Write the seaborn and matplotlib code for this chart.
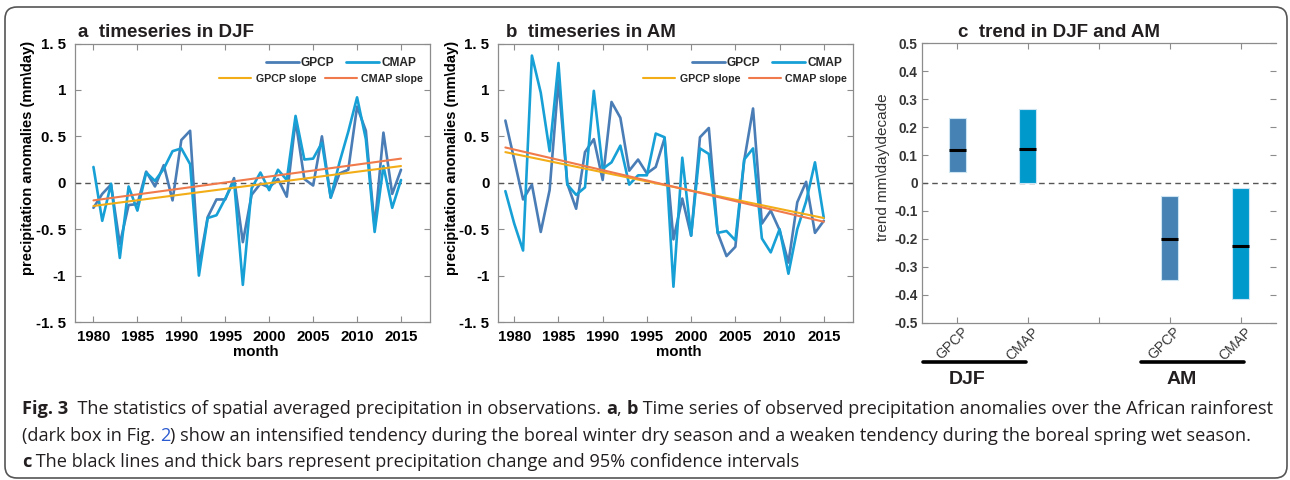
import numpy as np
import pandas as pd
import matplotlib
matplotlib.use("Agg")
import matplotlib.pyplot as plt
import seaborn as sns
from matplotlib import font_manager
from matplotlib.lines import Line2D
from matplotlib.patches import FancyBboxPatch
from matplotlib.transforms import IdentityTransform, ScaledTranslation

# ---------------- data ----------------
years_djf = list(range(1980, 2016))
gpcp_djf = [-0.27, -0.12, -0.02, -0.66, -0.24, -0.23, 0.12, -0.04, 0.19, -0.19,
            0.46, 0.56, -0.90, -0.37, -0.18, -0.18, 0.05, -0.64, -0.13, -0.01,
            -0.05, 0.04, -0.15, 0.67, 0.04, -0.03, 0.50, -0.16, 0.10, 0.14,
            0.82, 0.56, -0.48, 0.54, -0.12, 0.14]
cmap_djf = [0.17, -0.41, -0.01, -0.81, -0.04, -0.30, 0.11, 0.02, 0.15, 0.34,
            0.37, 0.20, -1.00, -0.38, -0.35, -0.17, 0.02, -1.10, -0.06, 0.11,
            -0.08, 0.14, 0.03, 0.72, 0.25, 0.26, 0.43, -0.16, 0.22, 0.55,
            0.92, 0.47, -0.53, 0.18, -0.27, 0.03]

years_am = list(range(1979, 2016))
gpcp_am = [0.67, 0.25, -0.18, -0.02, -0.53, -0.08, 1.10, -0.01, -0.28, 0.33,
           0.47, 0.03, 0.87, 0.70, 0.13, 0.25, 0.10, 0.17, 0.48, -0.61,
           -0.17, -0.57, 0.49, 0.59, -0.54, -0.79, -0.69, 0.24, 0.80, -0.44,
           -0.30, -0.51, -0.86, -0.21, 0.01, -0.54, -0.41]
cmap_am = [-0.09, -0.44, -0.73, 1.37, 0.97, 0.34, 1.29, -0.02, -0.13, -0.05,
           0.99, 0.15, 0.22, 0.40, -0.02, 0.08, 0.08, 0.53, 0.49, -1.12,
           0.27, -0.57, 0.37, 0.31, -0.54, -0.52, -0.62, 0.25, 0.37, -0.60,
           -0.75, -0.50, -0.98, -0.50, -0.20, 0.22, -0.38]

slope_years_djf = [1980, 2015]
gpcp_slope_djf = [-0.25, 0.18]
cmap_slope_djf = [-0.19, 0.26]
slope_years_am = [1979, 2015]
gpcp_slope_am = [0.33, -0.38]
cmap_slope_am = [0.38, -0.42]

trend_datasets = ["GPCP", "CMAP", "GPCP", "CMAP"]
trend_seasons = ["DJF", "DJF", "AM", "AM"]
trend_mid = [0.117, 0.123, -0.200, -0.224]
trend_low = [0.038, 0.000, -0.347, -0.416]
trend_high = [0.232, 0.266, -0.045, -0.019]

year_ticks = [1980, 1985, 1990, 1995, 2000, 2005, 2010, 2015]
anom_ticks = [-1.5, -1.0, -0.5, 0.0, 0.5, 1.0, 1.5]
anom_tick_labels = ["-1. 5", "-1", "-0. 5", "0", "0. 5", "1", "1. 5"]
trend_ticks = [0.5, 0.4, 0.3, 0.2, 0.1, 0.0, -0.1, -0.2, -0.3, -0.4, -0.5]
trend_tick_labels = ["0.5", "0.4", "0.3", "0.2", "0.1", "0", "-0.1", "-0.2", "-0.3", "-0.4", "-0.5"]

# ---------------- style ----------------
W, H = 1290, 480
sns.set_theme(style="ticks")
plt.rcParams['font.family'] = ['Liberation Sans', 'DejaVu Sans']
plt.rcParams['axes.unicode_minus'] = False

C_G = "#4a7db6"      # GPCP line
C_C = "#17a0d6"      # CMAP line
C_GS = "#f2ad17"     # GPCP slope
C_CS = "#f07a4b"     # CMAP slope
C_GB = "#4682b4"     # GPCP bar
C_CB = "#0099cc"     # CMAP bar
SPINE = "#8c8c8c"
TXT = "#231f20"

fig = plt.figure(figsize=(W / 100, H / 100), dpi=100)
fig.patch.set_facecolor("white")


def px_rect(l, t, r, b):
    return [l / W, 1 - b / H, (r - l) / W, (b - t) / H]


axA = fig.add_axes(px_rect(75, 43.5, 430, 322))
axB = fig.add_axes(px_rect(498.3, 43.5, 853, 322))
axC = fig.add_axes(px_rect(921.7, 43.3, 1276, 322.7))


def ts_panel(ax, years, g, c, sy, gs, cs, xlim):
    n = len(years)
    df = pd.DataFrame({"year": years + years, "anom": g + c,
                       "source": ["GPCP"] * n + ["CMAP"] * n})
    sns.lineplot(data=df, x="year", y="anom", hue="source", hue_order=["GPCP", "CMAP"],
                 palette={"GPCP": C_G, "CMAP": C_C}, lw=1.9, legend=False, ax=ax, zorder=3)
    sns.lineplot(x=sy, y=gs, color=C_GS, lw=1.5, ax=ax, zorder=4)
    sns.lineplot(x=sy, y=cs, color=C_CS, lw=1.5, ax=ax, zorder=4)
    ax.axhline(0, color="#555555", lw=1.0, ls=(0, (4, 3)), zorder=1)
    ax.set_xlim(*xlim)
    ax.set_ylim(-1.5, 1.5)
    ax.set_xticks(year_ticks)
    ax.set_xticklabels([str(v) for v in year_ticks])
    ax.set_yticks(anom_ticks)
    ax.set_yticklabels(anom_tick_labels)
    for s in ax.spines.values():
        s.set_visible(True)
        s.set_color(SPINE)
        s.set_linewidth(0.9)
    ax.tick_params(direction="in", length=4, width=0.8, color=SPINE, top=True, right=True,
                   bottom=True, left=True, labelsize=10.8, labelcolor="black")
    ax.tick_params(axis="x", pad=5.5)
    ax.tick_params(axis="y", pad=6.5)
    for lab in ax.get_xticklabels() + ax.get_yticklabels():
        lab.set_fontweight("bold")
    ax.set_xlabel("month", fontsize=10.8, fontweight="bold", color="black", va="center")
    ax.xaxis.set_label_coords(0.509, -0.108)
    ax.set_ylabel("precipitation anomalies (mm\\day)", fontsize=10.6, fontweight="bold",
                  color="black", va="center")
    ax.set_facecolor("white")


ts_panel(axA, years_djf, gpcp_djf, cmap_djf, slope_years_djf, gpcp_slope_djf, cmap_slope_djf,
         (1977.9, 2018.3))
axA.yaxis.set_label_coords((28 - 75) / 355, 0.59)
ts_panel(axB, years_am, gpcp_am, cmap_am, slope_years_am, gpcp_slope_am, cmap_slope_am,
         (1978.2, 2018.3))
axB.yaxis.set_label_coords((452 - 498.3) / 354.7, 0.59)


def add_legends(ax, r1, r2):
    h1 = [Line2D([], [], color=C_G, lw=2.0), Line2D([], [], color=C_C, lw=2.0)]
    leg1 = ax.legend(h1, ["GPCP", "CMAP"], ncol=2, loc="center right",
                     bbox_to_anchor=(r1 / W, 1 - 63 / H), bbox_transform=fig.transFigure,
                     frameon=False, prop={"weight": "bold", "size": 8.6},
                     handlelength=2.7, handletextpad=0.2, columnspacing=1.0,
                     borderpad=0, borderaxespad=0)
    ax.add_artist(leg1)
    h2 = [Line2D([], [], color=C_GS, lw=1.5), Line2D([], [], color=C_CS, lw=1.5)]
    ax.legend(h2, ["GPCP slope", "CMAP slope"], ncol=2, loc="center right",
              bbox_to_anchor=(r2 / W, 1 - 79 / H), bbox_transform=fig.transFigure,
              frameon=False, prop={"weight": "bold", "size": 7.7},
              handlelength=3.0, handletextpad=0.4, columnspacing=0.8,
              borderpad=0, borderaxespad=0)


add_legends(axA, 416, 423)
add_legends(axB, 842, 847)

# ---------------- panel c ----------------
pos = np.array([1, 2, 4, 5])
bar_colors = [C_GB if d == "GPCP" else C_CB for d in trend_datasets]
low = np.array(trend_low)
high = np.array(trend_high)
axC.axhline(0, color="#555555", lw=1.0, ls=(0, (4, 3)), zorder=1)
axC.bar(pos, high - low, bottom=low, width=0.24, color=bar_colors,
        edgecolor="#cde5f2", linewidth=0.8, zorder=2)
axC.hlines(trend_mid, pos - 0.12, pos + 0.12, color="black", lw=2.2, zorder=3)
axC.set_xlim(0.5, 5.5)
axC.set_ylim(-0.5, 0.5)
axC.set_yticks(trend_ticks)
axC.set_yticklabels(trend_tick_labels)
axC.set_xticks([1, 2, 3, 4, 5])
axC.set_xticklabels([trend_datasets[0], trend_datasets[1], "", trend_datasets[2], trend_datasets[3]],
                    rotation=45, ha="right", va="center", rotation_mode="anchor")
for name, s in axC.spines.items():
    s.set_visible(name != "right")
    s.set_color(SPINE)
    s.set_linewidth(0.9)
axC.tick_params(direction="in", length=4, width=0.8, color=SPINE, top=True, right=True,
                bottom=True, left=True)
axC.tick_params(axis="y", labelsize=9.8, labelcolor="#333333", pad=3)
axC.tick_params(axis="x", labelsize=10, labelcolor="#3a3a3a", pad=0)
for lab in axC.get_yticklabels():
    lab.set_fontweight("bold")
offset = ScaledTranslation(0.09, -0.07, fig.dpi_scale_trans)
for lab in axC.get_xticklabels():
    lab.set_transform(lab.get_transform() + offset)
axC.set_ylabel("trend mm\\day\\decade", fontsize=11, color="#333333", va="center")
axC.yaxis.set_label_coords((883 - 921.7) / 354.3, 0.555)

# group underlines and labels
for x0, x1, xc, name in [(923, 1026, 967, "DJF"), (1141, 1244, 1182, "AM")]:
    fig.add_artist(Line2D([x0 / W, x1 / W], [1 - 362 / H, 1 - 362 / H],
                          transform=fig.transFigure, color="black", lw=2.6))
    fig.text(xc / W, 1 - 380 / H, name, ha="center", va="center", fontsize=14,
             fontweight="bold", color=TXT)

# titles
fig.text(78 / W, 1 - 37 / H, "a  timeseries in DJF", fontsize=13.5, fontweight="bold",
         color=TXT, va="baseline")
fig.text(505.7 / W, 1 - 37 / H, "b  timeseries in AM", fontsize=13.5, fontweight="bold",
         color=TXT, va="baseline")
fig.text(958 / W, 1 - 37 / H, "c  trend in DJF and AM", fontsize=13.5, fontweight="bold",
         color=TXT, va="baseline")

# ---------------- caption ----------------
cap_family = "DejaVu Sans"
for fam in ["Liberation Sans Narrow", "Open Sans", "Liberation Sans"]:
    try:
        font_manager.findfont(font_manager.FontProperties(family=fam), fallback_to_default=False)
        cap_family = fam
        break
    except Exception:
        pass

renderer = fig.canvas.get_renderer()


def run_width(txt, size, weight):
    t = fig.text(0, 0, "|" + txt + "|", fontsize=size, fontweight=weight, family=cap_family)
    w1 = t.get_window_extent(renderer).width
    t.set_text("||")
    w2 = t.get_window_extent(renderer).width
    t.remove()
    return w1 - w2


LINK = "#2b5bd0"
cap_lines = [
    (414, [("Fig. 3", "bold", TXT), ("  The statistics of spatial averaged precipitation in observations. ", "normal", TXT),
           ("a", "bold", TXT), (", ", "normal", TXT), ("b", "bold", TXT),
           (" Time series of observed precipitation anomalies over the African rainforest", "normal", TXT)]),
    (441, [("(dark box in Fig. ", "normal", TXT), ("2", "normal", LINK),
           (") show an intensified tendency during the boreal winter dry season and a weaken tendency during the boreal spring wet season.", "normal", TXT)]),
    (467, [("c", "bold", TXT),
           (" The black lines and thick bars represent precipitation change and 95% confidence intervals", "normal", TXT)]),
]
w_ref = sum(run_width(t, 10, w) for t, w, _ in cap_lines[0][1])
cap_size = 10 * (1273 - 22) / w_ref

for ybase, runs in cap_lines:
    x = 22.0
    for txt, weight, col in runs:
        fig.text(x / W, 1 - ybase / H, txt, fontsize=cap_size, fontweight=weight, color=col,
                 family=cap_family, ha="left", va="baseline")
        x += run_width(txt, cap_size, weight)

# rounded frame
border = FancyBboxPatch((5, 2), 1282, 471, boxstyle="round,pad=0,rounding_size=12",
                        transform=IdentityTransform(), fill=False, edgecolor="#555555", lw=1.2)
fig.add_artist(border)

fig.savefig("out.png", dpi=100, facecolor="white")
